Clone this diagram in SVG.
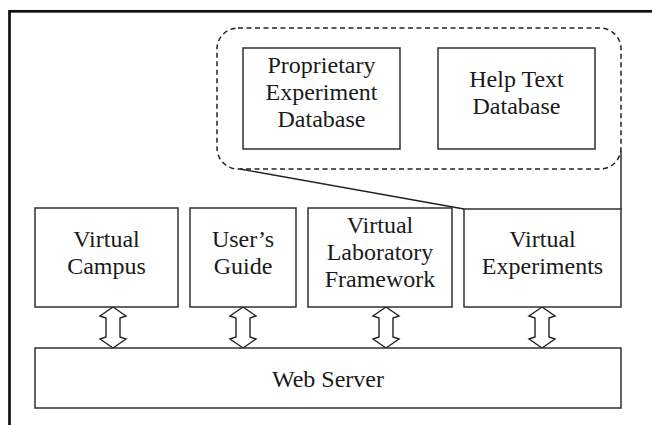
<svg xmlns="http://www.w3.org/2000/svg" width="652" height="425" viewBox="0 0 652 425">
<style>
.box{fill:#fff;stroke:#222;stroke-width:1.4}
.t{font-family:"Liberation Serif","Times New Roman",serif;font-size:24px;fill:#1a1a1a;text-anchor:middle}
.ln{fill:none;stroke:#222;stroke-width:1.4}
.arr{fill:#fff;stroke:#222;stroke-width:1.4;stroke-linejoin:miter}
</style>
<rect x="0" y="0" width="652" height="425" fill="#fff"/>
<rect x="9.5" y="11.3" width="700" height="500" fill="none" stroke="#111" stroke-width="2.7"/>
<g id="db-group">
<rect x="217" y="28" width="404" height="141" rx="21" fill="none" stroke="#222" stroke-width="1.5" stroke-dasharray="5,3.5"/>
</g>
<g id="proprietary-db">
<rect class="box" x="243" y="48" width="157" height="101"/>
<text class="t" x="321.5" y="73">Proprietary</text>
<text class="t" x="321.5" y="100">Experiment</text>
<text class="t" x="321.5" y="127">Database</text>
</g>
<g id="help-text-db">
<rect class="box" x="438" y="48" width="157" height="101"/>
<text class="t" x="516.5" y="87">Help Text</text>
<text class="t" x="516.5" y="114">Database</text>
</g>
<g id="connectors">
<line class="ln" x1="240" y1="169" x2="464" y2="209"/>
<line class="ln" x1="621" y1="151" x2="621" y2="209"/>
<path class="arr" d="M113,307 L126,316 L120,318 L120,337 L126,339 L113,348 L100,339 L106,337 L106,318 L100,316 Z"/>
<path class="arr" d="M243,307 L256,316 L250,318 L250,337 L256,339 L243,348 L230,339 L236,337 L236,318 L230,316 Z"/>
<path class="arr" d="M386,307 L399,316 L393,318 L393,337 L399,339 L386,348 L373,339 L379,337 L379,318 L373,316 Z"/>
<path class="arr" d="M542,307 L555,316 L549,318 L549,337 L555,339 L542,348 L529,339 L535,337 L535,318 L529,316 Z"/>
</g>
<g id="virtual-campus">
<rect class="box" x="35" y="208" width="143" height="99"/>
<text class="t" x="106.5" y="247">Virtual</text>
<text class="t" x="106.5" y="274">Campus</text>
</g>
<g id="users-guide">
<rect class="box" x="190" y="208" width="106" height="99"/>
<text class="t" x="243" y="247">User’s</text>
<text class="t" x="243" y="274">Guide</text>
</g>
<g id="virtual-lab-framework">
<rect class="box" x="308" y="208" width="144" height="99"/>
<text class="t" x="380" y="233">Virtual</text>
<text class="t" x="380" y="260">Laboratory</text>
<text class="t" x="380" y="287">Framework</text>
</g>
<g id="virtual-experiments">
<rect class="box" x="464" y="209" width="157" height="98"/>
<text class="t" x="542.5" y="247">Virtual</text>
<text class="t" x="542.5" y="274">Experiments</text>
</g>
<g id="web-server">
<rect class="box" x="35" y="348" width="586" height="60"/>
<text class="t" x="328" y="387">Web Server</text>
</g>
</svg>
